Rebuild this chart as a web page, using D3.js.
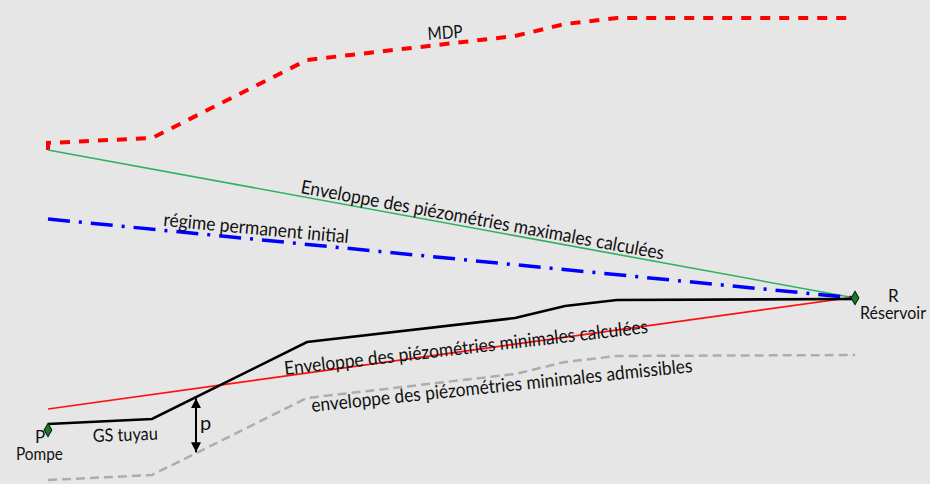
<!DOCTYPE html>
<html>
<head>
<meta charset="utf-8">
<script src="https://cdn.jsdelivr.net/npm/d3@7"></script>
<style>
  body { margin: 0; background: #e6e6e6; overflow: hidden; }
  text { font-family: Lato, "Open Sans", sans-serif; fill: #111; }
</style>
</head>
<body>
<svg id="chart"></svg>
<script>
// Distance along the pipe (m) and elevations (m)
var distances = [0, 1040, 2590, 4670, 5170, 5690, 8070];
var pipeProfile = [60, 65, 142, 166, 178, 184, 185];     // GS tuyau
var minAllowed = [4, 9, 86, 110, 122, 128, 129];          // enveloppe des piezo. min admissibles
var mdpDistances = [0, 0, 1040, 2590, 4670, 5170, 5690, 8070];
var mdpValues = [334, 341, 346, 424, 448, 460, 466, 466];
var lineEnds = [0, 8070];
var maxEnvelope = [334, 186];
var minEnvelope = [75, 187];
var initialRegime = [265, 186];
var pumpPoint = [0, 54];
var reservoirPoint = [8070, 186];
var arrowDistance = 1480;

const width = 930, height = 484;

var xScale = d3.scaleLinear().domain([0, 8070]).range([48, 855]);
var yScale = d3.scaleLinear().domain([0, 484]).range([484, 0]);

var svg = d3.select("#chart")
    .attr("width", width)
    .attr("height", height);

svg.append("rect")
    .attr("width", width)
    .attr("height", height)
    .attr("fill", "#e6e6e6");

var line = d3.line()
    .x(function(d) { return xScale(d[0]); })
    .y(function(d) { return yScale(d[1]); });

function pairs(xs, ys) {
    return xs.map(function(x, i) { return [x, ys[i]]; });
}

// grey dashed: minimales admissibles
svg.append("path")
    .attr("d", line(pairs(distances, minAllowed)))
    .attr("fill", "none")
    .attr("stroke", "#adadad")
    .attr("stroke-width", 2.5)
    .attr("stroke-dasharray", "9,5");

// MDP
svg.append("path")
    .attr("d", line(pairs(mdpDistances, mdpValues)))
    .attr("fill", "none")
    .attr("stroke", "#ff0000")
    .attr("stroke-width", 4)
    .attr("stroke-dasharray", "10,9");

// enveloppe maximale
svg.append("path")
    .attr("d", line(pairs(lineEnds, maxEnvelope)))
    .attr("fill", "none")
    .attr("stroke", "#2db35e")
    .attr("stroke-width", 1.6);

// regime permanent initial
svg.append("path")
    .attr("d", line(pairs(lineEnds, initialRegime)))
    .attr("fill", "none")
    .attr("stroke", "#0000ff")
    .attr("stroke-width", 3.5)
    .attr("stroke-dasharray", "22,9,3,9");

// enveloppe minimale
svg.append("path")
    .attr("d", line(pairs(lineEnds, minEnvelope)))
    .attr("fill", "none")
    .attr("stroke", "#ff1010")
    .attr("stroke-width", 1.6);

// GS tuyau
svg.append("path")
    .attr("d", line(pairs(distances, pipeProfile)))
    .attr("fill", "none")
    .attr("stroke", "#000")
    .attr("stroke-width", 2.6);

// arrow p between pipe and min allowed
var pipeAt = d3.scaleLinear().domain(distances).range(pipeProfile);
var minAt = d3.scaleLinear().domain(distances).range(minAllowed);

var defs = svg.append("defs");
defs.append("marker")
    .attr("id", "head")
    .attr("viewBox", "0 0 10 10")
    .attr("refX", 10).attr("refY", 5)
    .attr("markerWidth", 5).attr("markerHeight", 5)
    .attr("orient", "auto-start-reverse")
    .append("path")
    .attr("d", "M0,0L10,5L0,10Z")
    .attr("fill", "#000");

svg.append("line")
    .attr("x1", xScale(arrowDistance)).attr("x2", xScale(arrowDistance))
    .attr("y1", yScale(pipeAt(arrowDistance)) + 1)
    .attr("y2", yScale(minAt(arrowDistance)) - 1)
    .attr("stroke", "#000")
    .attr("stroke-width", 2)
    .attr("marker-start", "url(#head)")
    .attr("marker-end", "url(#head)");

// P and R markers
svg.selectAll(".node")
    .data([pumpPoint, reservoirPoint])
    .enter()
    .append("path")
    .attr("class", "node")
    .attr("d", d3.symbol().type(d3.symbolDiamond).size(50))
    .attr("transform", function(d) {
        return "translate(" + xScale(d[0]) + "," + yScale(d[1]) + ")";
    })
    .attr("fill", "#1d7a2a")
    .attr("stroke", "#0b2e10")
    .attr("stroke-width", 1.2);

// labels
var labels = [
    { text: "MDP", d: 3800, z: 444, angle: -4, len: 35, size: 18 },
    { text: "Enveloppe des piézométries maximales calculées", d: 2520, z: 291, angle: 10.4, len: 369, size: 19 },
    { text: "régime permanent initial", d: 1150, z: 258, angle: 5.3, len: 186, size: 19 },
    { text: "Enveloppe des piézométries minimales calculées", d: 2370, z: 109, angle: -6.6, len: 366, size: 19 },
    { text: "enveloppe des piézométries minimales admissibles", d: 2640, z: 72, angle: -6.0, len: 383, size: 19 },
    { text: "GS tuyau", d: 450, z: 42, angle: -2, len: 65, size: 18 },
    { text: "p", d: 1520, z: 54, angle: 0, len: 0, size: 20 },
    { text: "P", d: -130, z: 41, angle: 0, len: 0, size: 17 },
    { text: "Pompe", d: -320, z: 24, angle: 0, len: 47, size: 17 },
    { text: "R", d: 8400, z: 182, angle: 0, len: 0, size: 17 },
    { text: "Réservoir", d: 8120, z: 165, angle: 0, len: 66, size: 17 }
];

svg.selectAll(".label")
    .data(labels)
    .enter()
    .append("text")
    .attr("class", "label")
    .attr("transform", function(d) {
        return "translate(" + xScale(d.d) + "," + yScale(d.z) + ") rotate(" + d.angle + ")";
    })
    .attr("font-size", function(d) { return d.size; })
    .each(function(d) {
        if (d.len) {
            d3.select(this)
                .attr("textLength", d.len)
                .attr("lengthAdjust", "spacingAndGlyphs");
        }
    })
    .text(function(d) { return d.text; });
</script>
</body>
</html>
